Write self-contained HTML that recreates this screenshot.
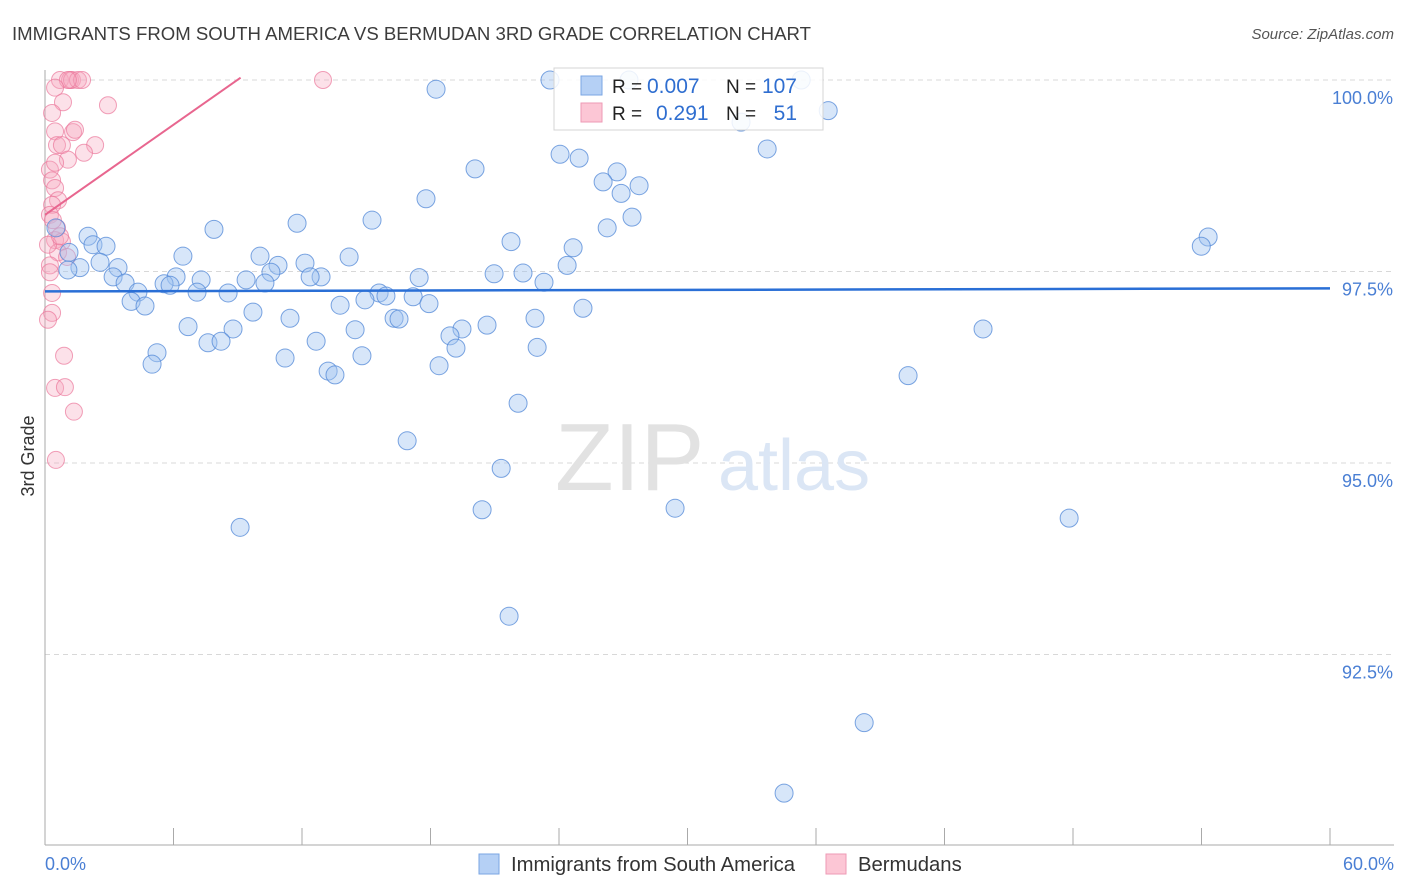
<!DOCTYPE html>
<html><head><meta charset="utf-8">
<style>
body{margin:0;background:#fff;font-family:"Liberation Sans",sans-serif;}
#wrap{position:relative;width:1406px;height:892px;overflow:hidden;}
svg text{font-family:"Liberation Sans",sans-serif;}
</style></head>
<body>
<div id="wrap">
<svg id="svg" width="1406" height="892"></svg>
</div>
<script>
const blueX=[23.58,27.27,35.31,18.26,36.57,32.50,33.72,24.05,24.94,20.08,26.71,26.06,27.74,26.90,17.79,15.27,11.77,27.41,7.89,26.25,0.51,2.01,54.31,53.99,21.76,24.66,2.24,2.85,6.44,10.04,14.20,1.12,12.14,10.88,3.41,1.63,1.07,2.57,10.55,24.38,20.97,22.32,3.18,6.12,3.74,7.29,9.39,10.27,12.89,12.38,17.47,23.30,5.56,5.84,4.34,7.10,8.55,15.60,15.92,17.19,4.02,4.67,14.94,13.78,17.93,25.12,9.71,11.44,16.30,16.53,22.88,6.68,8.78,14.48,19.47,20.64,18.91,43.80,7.61,8.22,12.66,19.19,22.98,5.23,5.00,11.21,14.80,18.40,13.22,13.54,40.30,22.09,16.91,21.30,9.11,20.41,29.42,47.82,21.67,38.25,34.51];
const blueY=[100.0,100.0,100.0,99.88,99.60,99.45,99.10,99.03,98.98,98.84,98.80,98.67,98.62,98.52,98.45,98.17,98.13,98.21,98.05,98.07,98.07,97.96,97.95,97.83,97.89,97.81,97.85,97.83,97.70,97.70,97.69,97.75,97.61,97.58,97.55,97.55,97.52,97.62,97.49,97.58,97.47,97.48,97.43,97.43,97.35,97.39,97.39,97.35,97.43,97.43,97.42,97.36,97.34,97.32,97.23,97.23,97.22,97.22,97.18,97.17,97.11,97.05,97.13,97.06,97.08,97.02,96.97,96.89,96.89,96.88,96.89,96.78,96.75,96.74,96.75,96.80,96.66,96.75,96.57,96.59,96.59,96.50,96.51,96.44,96.29,96.37,96.40,96.27,96.20,96.15,96.14,95.78,95.29,94.93,94.16,94.39,94.41,94.28,93.00,91.61,90.69];
const pinkX=[0.70,1.17,1.26,1.54,1.73,1.07,12.98,0.47,0.84,0.33,2.94,0.47,1.31,1.40,0.56,0.79,2.34,1.07,1.82,0.23,0.47,0.33,0.47,0.61,0.33,0.23,0.56,0.47,0.79,0.61,0.23,1.03,0.33,0.33,0.14,0.89,0.47,0.93,1.35,0.51,0.23,0.14,0.37,0.70];
const pinkY=[100,100,100,100,100,100,100,99.90,99.71,99.57,99.67,99.33,99.32,99.35,99.15,99.15,99.15,98.96,99.05,98.83,98.92,98.69,98.59,98.43,98.37,98.24,98.07,97.91,97.89,97.75,97.58,97.69,97.22,96.96,96.87,96.40,95.98,95.99,95.67,95.04,97.49,97.85,98.17,97.96];
const yTicks=[100,97.5,95,92.5];
const yTickLabels=["100.0%","97.5%","95.0%","92.5%"];
const blueTrend=[97.24,97.28];
const pinkTrend=[98.24,0.196];
const NS="http://www.w3.org/2000/svg";
const svg=document.getElementById('svg');
const X0=45,X1=1330,Y100=80,YPX=76.6;
const sx=v=>X0+(v/60)*(X1-X0);
const sy=v=>Y100+(100-v)*YPX;
function mk(tag,attrs,parent){const e=document.createElementNS(NS,tag);for(const k in attrs)e.setAttribute(k,attrs[k]);(parent||svg).appendChild(e);return e;}
function txt(x,y,s,attrs){const t=mk('text',Object.assign({x:x,y:y},attrs));t.textContent=s;return t;}
let t=txt(12,40,"IMMIGRANTS FROM SOUTH AMERICA VS BERMUDAN 3RD GRADE CORRELATION CHART",{'font-size':18.6,fill:'#3c3c3c'});


t=txt(1394,39,"Source: ZipAtlas.com",{'font-size':15,fill:'#555','font-style':'italic','text-anchor':'end'});


yTicks.forEach((v,i)=>{
 const g=mk('line',{x1:X0,x2:1394,y1:sy(v),y2:sy(v),stroke:'#d8d8d8','stroke-dasharray':'5,4'});
 
 
 const l=txt(1393,sy(v)+24,yTickLabels[i],{'font-size':18,fill:'#4a7fd4','text-anchor':'end'});
 
 
});
let a=mk('line',{x1:X0,x2:X0,y1:70,y2:845,stroke:'#aaa'});


a=mk('line',{x1:X0,x2:1394,y1:845,y2:845,stroke:'#aaa'});


for(let i=0;i<=10;i++){const tk=mk('line',{x1:sx(i*6),x2:sx(i*6),y1:828,y2:845,stroke:'#aaa'});
 
 }
t=txt(45,870,"0.0%",{'font-size':18,fill:'#4a7fd4'});


t=txt(1394,870,"60.0%",{'font-size':18,fill:'#4a7fd4','text-anchor':'end'});


t=txt(34,456,"3rd Grade",{'font-size':18,fill:'#333','text-anchor':'middle',transform:'rotate(-90 34 456)'});


t=txt(555,490,"ZIP",{'font-size':96,fill:'#e2e2e2','font-family':'Liberation Serif'});


t=txt(718,490,"atlas",{'font-size':72,fill:'#dbe6f5'});


pinkX.forEach((v,i)=>{const c=mk('circle',{cx:sx(v),cy:sy(pinkY[i]),r:8.5,fill:'rgba(247,168,192,0.35)',stroke:'rgba(235,120,155,0.7)','stroke-width':1});
 
 });
blueX.forEach((v,i)=>{const c=mk('circle',{cx:sx(v),cy:sy(blueY[i]),r:9,fill:'rgba(160,195,240,0.42)',stroke:'rgba(80,135,215,0.75)','stroke-width':1});
 
 });
let ln=mk('line',{x1:sx(0),y1:sy(blueTrend[0]),x2:sx(60),y2:sy(blueTrend[1]),stroke:'#2a6fd6','stroke-width':2.5});


const pxEnd=(100.03-pinkTrend[0])/pinkTrend[1];
ln=mk('line',{x1:sx(0),y1:sy(pinkTrend[0]),x2:sx(pxEnd),y2:sy(pinkTrend[0]+pinkTrend[1]*pxEnd),stroke:'#e8668f','stroke-width':2});


const lg=mk('g',{});


mk('rect',{x:554,y:68,width:269,height:62,fill:'rgba(255,255,255,0.85)',stroke:'#d4d4d4'},lg);
mk('rect',{x:581,y:76,width:21,height:19,fill:'#b5d0f5',stroke:'#7aa6e3'},lg);
mk('rect',{x:581,y:103,width:21,height:19,fill:'#fcc6d5',stroke:'#ee9ab5'},lg);
const rows=[["0.007","107",93],["0.291","51",120]];
rows.forEach((r,i)=>{
 txt(612,r[2],"R =",{'font-size':19,fill:'#222'},lg);
 txt(i?656:647,r[2],r[0],{'font-size':21,fill:'#2f6ed0'},lg);
 txt(726,r[2],"N =",{'font-size':19,fill:'#222'},lg);
 txt(797,r[2],r[1],{'font-size':21,fill:'#2f6ed0','text-anchor':'end'},lg);
});
const bl=mk('g',{});


mk('rect',{x:479,y:854,width:20,height:20,fill:'#b5d0f5',stroke:'#7aa6e3'},bl);
txt(511,871,"Immigrants from South America",{'font-size':20.3,fill:'#333'},bl);
mk('rect',{x:826,y:854,width:20,height:20,fill:'#fcc6d5',stroke:'#ee9ab5'},bl);
txt(858,871,"Bermudans",{'font-size':20.3,fill:'#333'},bl);
</script>
</body></html>
